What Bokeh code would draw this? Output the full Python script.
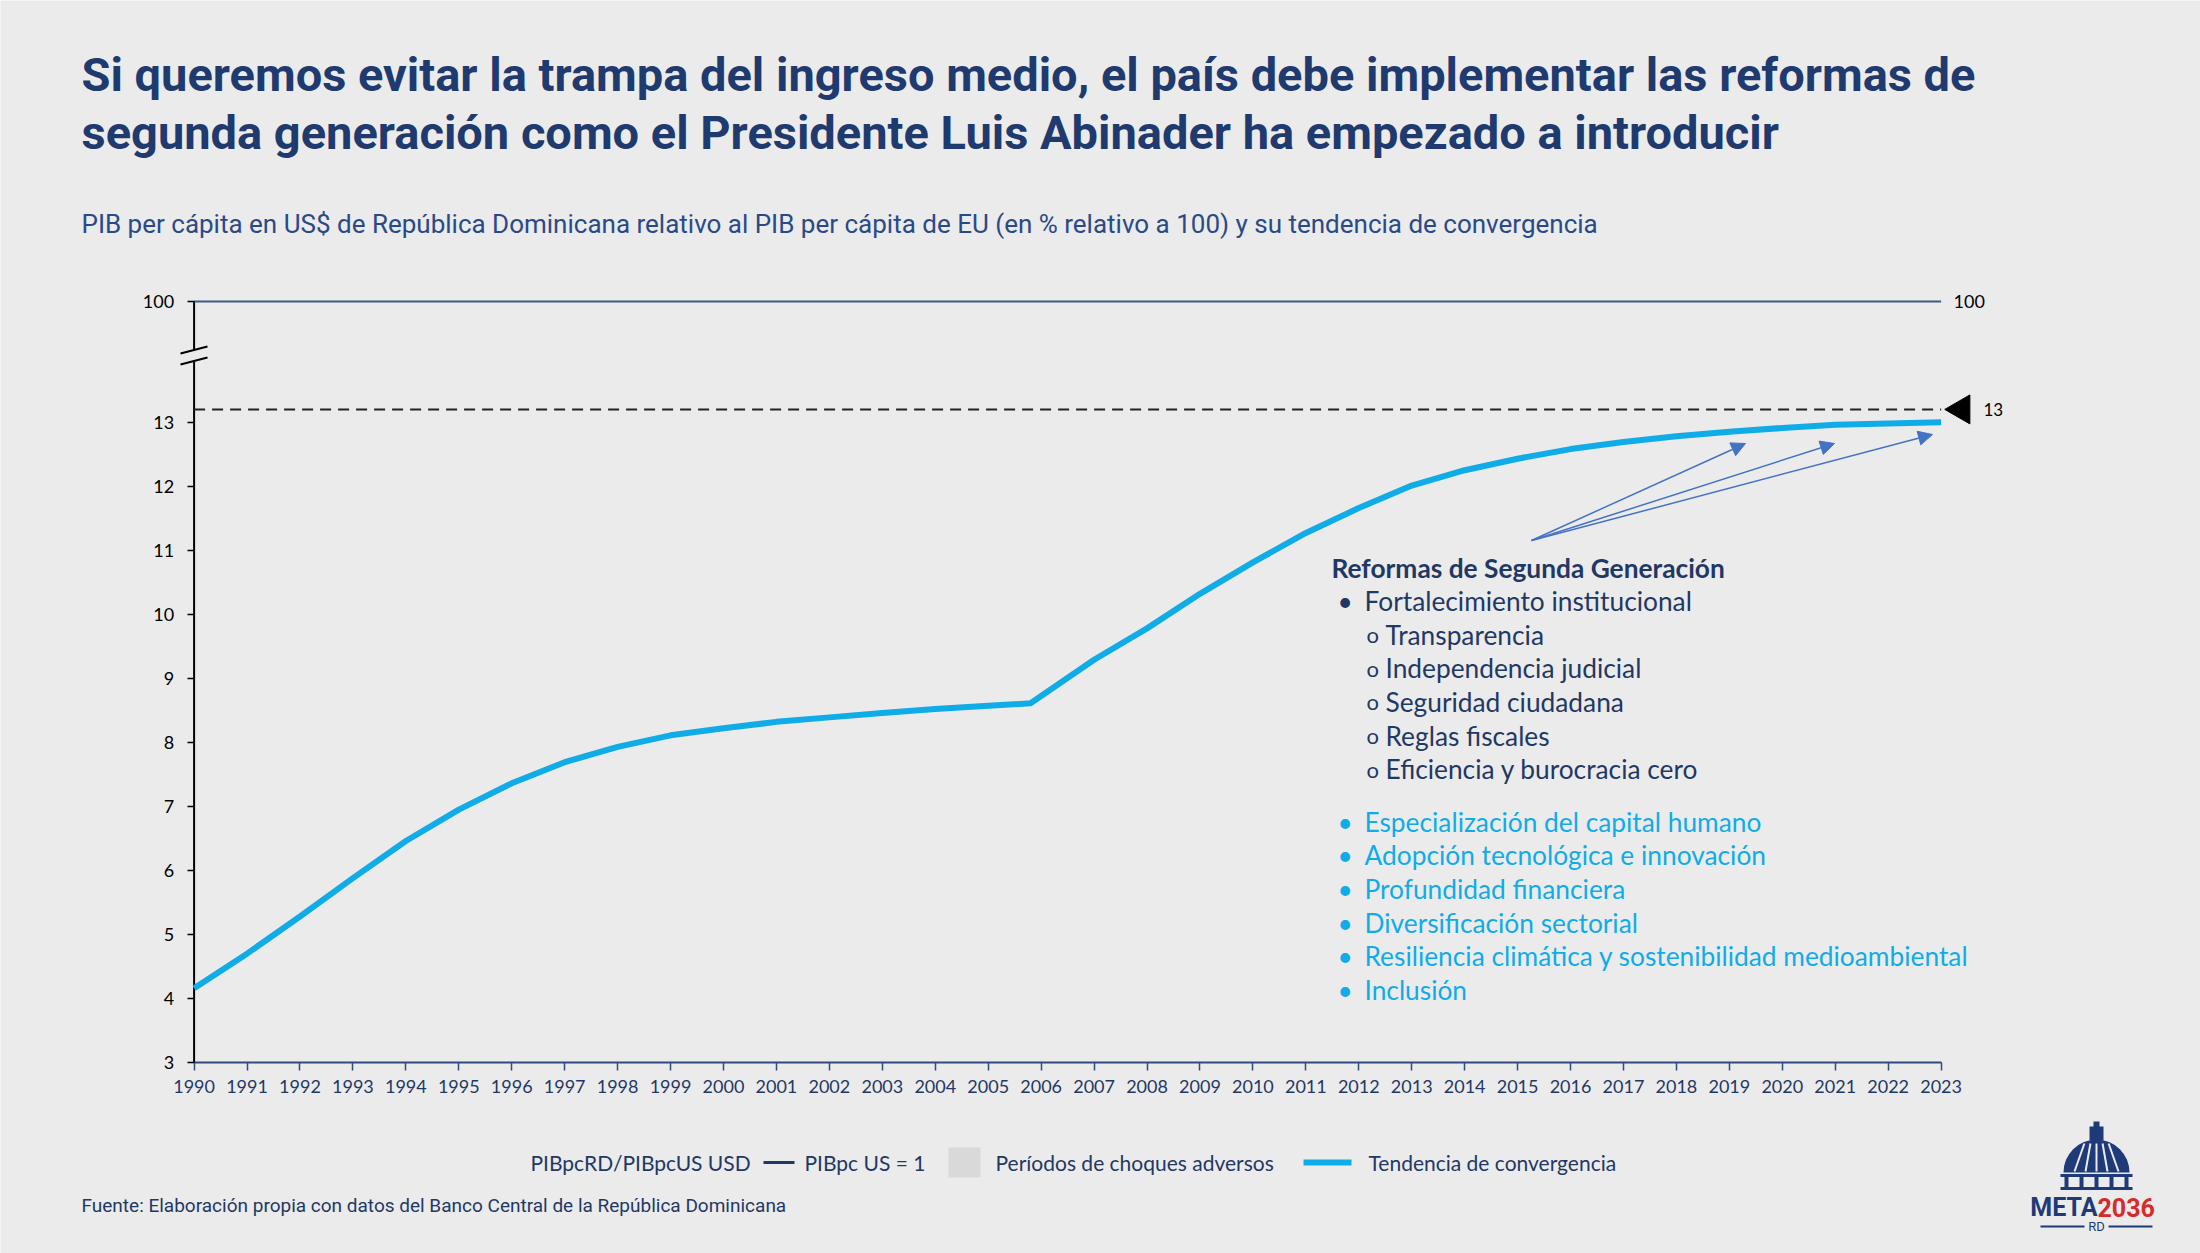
import numpy as np
from bokeh.plotting import figure
from bokeh.models import Range1d, FixedTicker, LinearAxis, Arrow, NormalHead
from bokeh.embed import file_html
from bokeh.resources import INLINE
from bokeh.core.properties import value

# ---------------- data ----------------
years = [1990, 1991, 1992, 1993, 1994, 1995, 1996, 1997, 1998, 1999, 2000,
         2001, 2002, 2003, 2004, 2005, 2005.8, 2007, 2008, 2009, 2010, 2011,
         2012, 2013, 2014, 2015, 2016, 2017, 2018, 2019, 2020, 2021, 2022, 2023]
trend = [4.16, 4.70, 5.28, 5.88, 6.46, 6.95, 7.36, 7.69, 7.93, 8.11, 8.22,
         8.32, 8.39, 8.46, 8.52, 8.57, 8.61, 9.29, 9.78, 10.32, 10.81, 11.27,
         11.66, 12.01, 12.25, 12.43, 12.58, 12.69, 12.78, 12.85, 12.91, 12.96, 12.98, 13.00]
us_level = 100          # PIBpc US = 100
target = 13.2           # convergence target marker
x_ticks = list(range(1990, 2024))
y_ticks = list(range(3, 14))

title_lines = [
    "Si queremos evitar la trampa del ingreso medio, el país debe implementar las reformas de",
    "segunda generación como el Presidente Luis Abinader ha empezado a introducir",
]
subtitle = ("PIB per cápita en US$ de República Dominicana relativo al PIB per cápita de EU "
            "(en % relativo a 100) y su tendencia de convergencia")
source = "Fuente: Elaboración propia con datos del Banco Central de la República Dominicana"
reform_head = "Reformas de Segunda Generación"
reform_main = "Fortalecimiento institucional"
reform_sub = ["Transparencia", "Independencia judicial", "Seguridad ciudadana",
              "Reglas fiscales", "Eficiencia y burocracia cero"]
reform_other = ["Especialización del capital humano", "Adopción tecnológica e innovación",
                "Profundidad financiera", "Diversificación sectorial",
                "Resiliencia climática y sostenibilidad medioambiental", "Inclusión"]

# ---------------- canvas geometry ----------------
W, H = 2200, 1253
BG = "#EBEBEB"
NAVY = "#1F3864"
TITLE_NAVY = "#1F3A6E"
CYAN = "#10ACE8"
ARROW = "#4472C4"

X0, XS = 193.6, 52.94     # pixel of 1990, pixels per year
Y0, YS = 1062.0, 64.03    # pixel of 3, pixels per unit


def fx(px):
    return 1990 + (px - X0) / XS


def fy(py):
    return 3 + (Y0 - py) / YS


# broken axis: 100 sits just above the 3..13 block
Y_US = fy(301)

p = figure(width=W, height=H, x_range=Range1d(fx(0), fx(W)), y_range=Range1d(fy(H), fy(0)),
           output_backend="svg", toolbar_location=None, min_border=0,
           x_axis_type=None, y_axis_type=None)
p.outline_line_color = None
p.background_fill_color = BG
p.border_fill_color = BG

# ---------------- axes ----------------
xaxis = LinearAxis(fixed_location=3, bounds=(1990, 2023), ticker=FixedTicker(ticks=x_ticks))
xaxis.axis_line_color = "#2F4A7F"
xaxis.axis_line_width = 2
xaxis.major_tick_line_color = "#2F4A7F"
xaxis.major_tick_line_width = 1.5
xaxis.major_tick_out = 8
xaxis.major_tick_in = 0
xaxis.minor_tick_line_color = None
xaxis.major_label_standoff = 9
xaxis.major_label_text_font = "Lato"
xaxis.major_label_text_font_size = "18px"
xaxis.major_label_text_color = NAVY
p.add_layout(xaxis, "below")

yaxis = LinearAxis(fixed_location=1990, bounds=(3, Y_US),
                   ticker=FixedTicker(ticks=y_ticks + [Y_US]))
yaxis.major_label_overrides = {Y_US: str(us_level)}
yaxis.axis_line_color = None
yaxis.major_tick_line_color = "black"
yaxis.major_tick_line_width = 1.5
yaxis.major_tick_out = 7
yaxis.major_tick_in = 0
yaxis.minor_tick_line_color = None
yaxis.major_label_standoff = 13
yaxis.major_label_text_font = "Lato"
yaxis.major_label_text_font_size = "18px"
yaxis.major_label_text_color = "black"
p.add_layout(yaxis, "left")

# y axis line with a break between 13 and 100
p.segment(x0=[1990, 1990], y0=[3, fy(350)], x1=[1990, 1990], y1=[fy(361), Y_US],
          line_color="black", line_width=2)
p.segment(x0=[fx(180), fx(180)], y0=[fy(353), fy(364)], x1=[fx(207), fx(207)],
          y1=[fy(346), fy(357)], line_color="black", line_width=2)

# ---------------- reference lines ----------------
p.line(x=[1990, 2023], y=[Y_US, Y_US], line_color="#3E5A8A", line_width=2)
p.text(x=[fx(1953)], y=[Y_US], text=[str(us_level)], text_font=value("Lato"),
       text_font_size="18px", text_color="black", text_baseline="middle")

p.line(x=[1990, 2023], y=[target, target], line_color="#222222", line_width=2,
       line_dash="11 7")
p.scatter(x=[fx(1961)], y=[target], marker="triangle", size=29, angle=np.pi / 2,
          fill_color="black", line_color="black")
p.text(x=[fx(1983)], y=[target], text=[f"{round(target)}"], text_font=value("Lato"),
       text_font_size="17px", text_color="black", text_baseline="middle")

# ---------------- convergence trend ----------------
p.line(x=years, y=trend, line_color=CYAN, line_width=6, line_join="round")

# ---------------- arrows toward the end of the trend ----------------
ox, oy = fx(1531), fy(540)
for tx, ty in [(1745, 443), (1834, 443), (1932, 434)]:
    p.add_layout(Arrow(x_start=ox, y_start=oy, x_end=fx(tx), y_end=fy(ty),
                       line_color=ARROW, line_width=1.5,
                       end=NormalHead(size=14, fill_color=ARROW, line_color=ARROW)))

# ---------------- reform list ----------------
FS = "26.3px"
p.text(x=[fx(1331)], y=[fy(567)], text=[reform_head], text_font=value("Lato"),
       text_font_style="bold", text_font_size=FS, text_color=NAVY, text_baseline="middle")
p.text(x=[fx(1337)], y=[fy(600)], text=["•"], text_font=value("Lato"),
       text_font_size=FS, text_color=NAVY, text_baseline="middle")
p.text(x=[fx(1364)], y=[fy(600)], text=[reform_main], text_font=value("Lato"),
       text_font_size=FS, text_color=NAVY, text_baseline="middle")
sub_y = [fy(634 + 33.7 * i) for i in range(len(reform_sub))]
p.text(x=[fx(1366)] * len(reform_sub), y=sub_y, text=["o"] * len(reform_sub),
       text_font=value("Lato"), text_font_size="22px", text_color=NAVY, text_baseline="middle")
p.text(x=[fx(1385)] * len(reform_sub), y=sub_y, text=reform_sub, text_font=value("Lato"),
       text_font_size=FS, text_color=NAVY, text_baseline="middle")
oth_y = [fy(821 + 33.7 * i) for i in range(len(reform_other))]
p.text(x=[fx(1337)] * len(reform_other), y=oth_y, text=["•"] * len(reform_other),
       text_font=value("Lato"), text_font_size=FS, text_color=CYAN, text_baseline="middle")
p.text(x=[fx(1364)] * len(reform_other), y=oth_y, text=reform_other, text_font=value("Lato"),
       text_font_size=FS, text_color=CYAN, text_baseline="middle")

# ---------------- titles ----------------
p.text(x=[fx(81)] * 2, y=[fy(74), fy(132)], text=title_lines, text_font=value("Roboto"),
       text_font_style="bold", text_font_size="47px", text_color=TITLE_NAVY,
       text_baseline="middle")
p.text(x=[fx(81)], y=[fy(223)], text=[subtitle], text_font=value("Roboto"),
       text_font_size="26px", text_color="#2A4A87", text_baseline="middle")

# ---------------- legend ----------------
LY = fy(1162)
legend_font = dict(text_font=value("Lato"), text_font_size="21px", text_color=NAVY,
                   text_baseline="middle")
p.text(x=[fx(530)], y=[LY], text=["PIBpcRD/PIBpcUS USD"], **legend_font)
p.segment(x0=[fx(763)], y0=[LY], x1=[fx(794)], y1=[LY], line_color=NAVY, line_width=3)
p.text(x=[fx(804)], y=[LY], text=["PIBpc US = 1"], **legend_font)
p.rect(x=[fx(964)], y=[LY], width=32, height=30, width_units="screen", height_units="screen",
       fill_color="#D9D9D9", line_color=None)
p.text(x=[fx(995)], y=[LY], text=["Períodos de choques adversos"], **legend_font)
p.segment(x0=[fx(1303)], y0=[LY], x1=[fx(1351)], y1=[LY], line_color=CYAN, line_width=6)
p.text(x=[fx(1368)], y=[LY], text=["Tendencia de convergencia"], **legend_font)

# ---------------- source ----------------
p.text(x=[fx(81)], y=[fy(1205)], text=[source], text_font=value("Roboto"),
       text_font_size="19px", text_color=NAVY, text_baseline="middle")

# ---------------- logo ----------------
LOGO = "#1E3A78"
cx = fx(2096)
p.wedge(x=[cx], y=[fy(1172)], radius=33, radius_units="screen", start_angle=0,
        end_angle=np.pi, fill_color=LOGO, line_color=None)
for dx in [-22, -11, 0, 11, 22]:
    p.segment(x0=[fx(2096 + dx)], y0=[fy(1171)], x1=[fx(2096 + dx * 0.55)], y1=[fy(1143)],
              line_color=BG, line_width=2)
p.rect(x=[cx], y=[fy(1133)], width=14, height=14, width_units="screen",
       height_units="screen", fill_color=LOGO, line_color=None)
p.rect(x=[cx], y=[fy(1124)], width=6, height=6, width_units="screen",
       height_units="screen", fill_color=LOGO, line_color=None)
p.rect(x=[cx, cx], y=[fy(1175), fy(1188)], width=[72, 72], height=[3, 3],
       width_units="screen", height_units="screen", fill_color=LOGO, line_color=None)
p.rect(x=[fx(2096 + d) for d in (-30, -15, 0, 15, 30)], y=[fy(1181.5)] * 5, width=4, height=10,
       width_units="screen", height_units="screen", fill_color=LOGO, line_color=None)
p.text(x=[fx(2097)], y=[fy(1207)], text=["META"], text_font=value("Roboto"),
       text_font_style="bold", text_font_size="25px", text_color=LOGO,
       text_align="right", text_baseline="middle")
p.text(x=[fx(2097)], y=[fy(1207)], text=["2036"], text_font=value("Roboto"),
       text_font_style="bold", text_font_size="25px", text_color="#D62B2B",
       text_align="left", text_baseline="middle")
p.text(x=[cx], y=[fy(1226)], text=["RD"], text_font=value("Roboto"),
       text_font_size="13px", text_color=LOGO, text_align="center", text_baseline="middle")
p.segment(x0=[fx(2040), fx(2108)], y0=[fy(1226)] * 2, x1=[fx(2084), fx(2152)],
          y1=[fy(1226)] * 2, line_color=LOGO, line_width=2)

open("out.html", "w").write(file_html(p, INLINE))
